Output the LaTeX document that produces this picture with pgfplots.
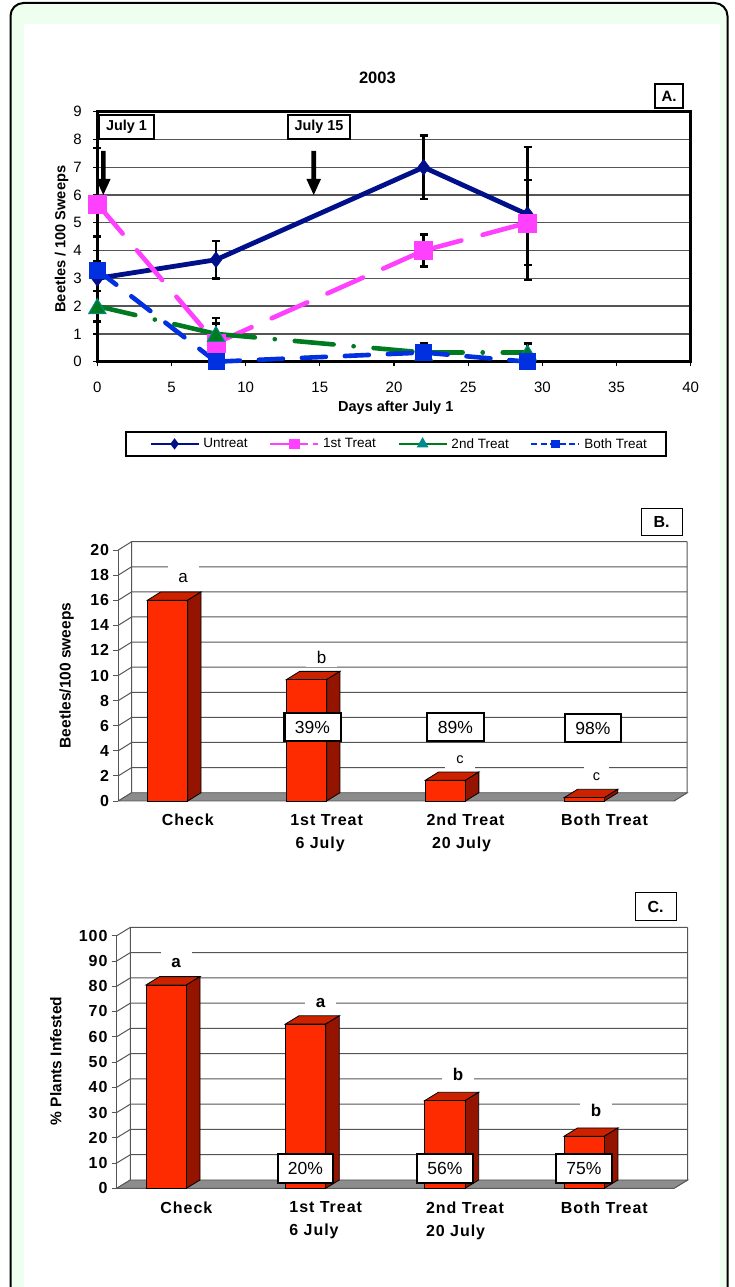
\documentclass[border=0pt]{standalone}
\usepackage{fontspec}
\setmainfont{Liberation Sans}
\newfontfamily\lab{Liberation Sans}[LetterSpace=6]
\usepackage{pgfplots}
\usepackage{pgfplotstable}
\pgfplotsset{compat=1.18}

\definecolor{pale}{HTML}{EEFFEF}
\definecolor{cnavy}{HTML}{000F8A}
\definecolor{cpink}{HTML}{FF40FF}
\definecolor{cgreen}{HTML}{007A1E}
\definecolor{cteal}{HTML}{008C8C}
\definecolor{cblue}{HTML}{0030DF}
\definecolor{barfront}{HTML}{FF2B00}
\definecolor{barside}{HTML}{941400}
\definecolor{bartop}{HTML}{CC2200}
\definecolor{floorc}{HTML}{8C8C8C}
\definecolor{gridc}{HTML}{555555}

% panel A: day, mean, error up, error down
\pgfplotstableread{
x y ep em
0 3 1.5 1.55
8 3.67 0.68 0.67
22 7 1.15 1.15
29 5.3 2.42 2.37
}\untreat
\pgfplotstableread{
x y ep em
0 5.68 2.02 2.1
8 0.67 0.9 0.67
22 4 0.58 0.58
29 5 1.53 1.53
}\firsttreat
\pgfplotstableread{
x y ep em
0 2 0.55 0.55
8 1 0.38 0.38
22 0.33 0.35 0.33
29 0.33 0.33 0.33
}\secondtreat
\pgfplotstableread{
x y ep em
0 3.3 0.3 0.3
8 0 0.3 0
22 0.33 0.3 0.33
29 0 0.3 0
}\bothtreat

\newcommand{\fs}[1]{\fontsize{#1}{#1}\selectfont}
% white label box given by its pixel corners
\newcommand{\pxbox}[6]{\node[draw=black,fill=white,line width=#5,inner sep=0pt,
  minimum width={(#3-#1)*1pt},minimum height={(#4-#2)*1pt}] at ({(#1+#3)/2*1pt},{(1287-(#2+#4)/2)*1pt}) {#6};}
% letter over a bar, white behind it cuts the grid line
\newcommand{\pxlet}[5]{\node[fill=white,inner sep=0pt,minimum width=#3,minimum height=#4] at ({#1*1pt},{(1287-#2)*1pt}) {#5};}
\newcommand{\pxarrow}[1]{\fill (#1-2.3,1287-151) -- (#1+2.3,1287-151) -- (#1+2.3,1287-179) -- (#1+7.3,1287-179)
  -- (#1,1287-195) -- (#1-7.3,1287-179) -- (#1-2.3,1287-179) -- cycle;}

\pgfplotsset{
  barpanel/.style={
    scale only axis,
    axis lines=left,
    x axis line style={-,gridc,line width=1pt},
    y axis line style={-,gridc,line width=1pt},
    xmin=0,xmax=4,
    clip=false,
    xtick={0.5,1.5,2.5,3.5},
    minor xtick={0,1,2,3,4},
    tick align=outside,
    major tick length=5pt,
    minor tick length=5pt,
    tick style={gridc,line width=0.9pt},
    xtick style={draw=none},
    minor x tick style={gridc,line width=0.9pt},
    /pgf/number format/assume math mode=true,
    yticklabel style={font=\fs{16}\lab\bfseries,inner sep=1pt,xshift=-3pt},
    xticklabel style={font=\fontsize{16}{23}\selectfont\lab\bfseries,inner sep=0pt,yshift=-8pt},
  },
  front/.style={ybar,bar width=40.3pt,bar shift=-20.15pt,fill=barfront,draw=black,line width=0.8pt},
  side/.style={fill=barside,draw=black,line width=0.8pt},
  topf/.style={fill=bartop,draw=black,line width=0.8pt},
  lnavy/.style={cnavy,line width=4.8pt,line cap=round},
  lpink/.style={cpink,line width=4.6pt,line cap=round,dash pattern=on 39pt off 22pt},
  lgreen/.style={cgreen,line width=4.6pt,line cap=round,dash pattern=on 39pt off 20pt on 0.1pt off 20pt},
  lblue/.style={cblue,line width=4.6pt,line cap=round,dash pattern=on 24pt off 19pt},
  errs/.style={error bars/.cd,y dir=both,y explicit,
    error bar style={black,line width=2.4pt},
    error mark options={black,line width=2.4pt,mark size=4pt,rotate=90}},
}

\begin{document}
\begin{tikzpicture}[x=1pt,y=1pt]
\path[use as bounding box,clip] (0,0) rectangle (735,1287);
\fill[white] (0,0) rectangle (735,1287);
\draw[black,line width=2pt,fill=pale,rounded corners=13pt] (10.5,-40) rectangle (727.5,1284);
\fill[white] (24,-40) rectangle (720,1263);

% panel A
\begin{axis}[
  at={(97.3pt,925.3pt)},anchor=south west,
  scale only axis,width=593.4pt,height=250pt,
  xmin=0,xmax=40,ymin=0,ymax=9,
  xtick={0,5,...,40},ytick={0,1,...,9},
  clip=false,
  axis line style={line width=3pt},
  ymajorgrids,
  grid style={gridc,line width=1.3pt},
  tick align=outside,tick pos=left,
  major tick length=4pt,
  tick style={black,line width=1.2pt},
  /pgf/number format/assume math mode=true,
  ticklabel style={font=\fs{15}},
  xticklabel style={yshift=-13pt},
  yticklabel style={xshift=-8pt},
  xlabel={Days after July 1},
  ylabel={Beetles / 100 Sweeps},
  x label style={at={(axis description cs:0.503,-0.184)},anchor=center,font=\fs{14.5}\bfseries},
  y label style={at={(axis description cs:-0.06,0.49)},anchor=center,font=\fs{14.6}\bfseries},
  title={2003},
  title style={at={(axis description cs:0.472,1.139)},anchor=center,yshift=-7pt,font=\fs{16.5}\bfseries},
  legend style={at={(axis description cs:0.503,-0.329)},anchor=center,draw=black,line width=1.6pt,
    font=\fs{13.5},legend columns=4,inner xsep=17pt,inner ysep=4.5pt,
    /tikz/every odd column/.append style={column sep=2pt},
    /tikz/every even column/.append style={column sep=19.7pt}},
  legend cell align=left,
  legend image code/.code={\draw[mark repeat=2,mark phase=2,#1] plot coordinates {(0pt,0pt)(24pt,0pt)(48pt,0pt)};},
]
\addlegendimage{legend image code/.code={\path (-7pt,0pt);
    \draw[mark repeat=2,mark phase=2,cnavy,line width=1.8pt,mark=diamond*,mark size=4.2pt,mark options={solid,fill=cnavy,draw=cnavy}]
      plot coordinates {(0pt,0pt)(24pt,0pt)(48pt,0pt)};}}
\addlegendentry{Untreat}
\addlegendimage{cpink,line width=1.8pt,dash pattern=on 38pt off 5pt on 5pt,mark=square*,mark size=4.5pt,mark options={solid,fill=cpink,draw=cpink}}
\addlegendentry{1st Treat}
\addlegendimage{cgreen,line width=1.8pt,mark=triangle*,mark size=5pt,mark options={solid,fill=cteal,draw=cteal}}
\addlegendentry{2nd Treat}
\addlegendimage{cblue,line width=1.8pt,dash pattern=on 6pt off 3.4pt,mark=square*,mark size=3.5pt,mark options={solid,fill=cblue,draw=cblue}}
\addlegendentry{Both Treat}

% lines, one piece per interval so each dash pattern restarts at a point
\addplot[lnavy,forget plot] coordinates {(0,3)(8,3.67)(22,7)(29,5.3)};
\addplot[forget plot,only marks,mark=diamond*,mark size=8pt,mark options={fill=cnavy,draw=cnavy},errs]
  table[x=x,y=y,y error plus=ep,y error minus=em] {\untreat};

\addplot[lpink,forget plot] coordinates {(0,5.68)(8,0.67)};
\addplot[lpink,forget plot] coordinates {(8,0.67)(22,4)};
\addplot[lpink,forget plot] coordinates {(22,4)(29,5)};
\addplot[forget plot,only marks,mark=square*,mark size=9pt,mark options={fill=cpink,draw=cpink},errs]
  table[x=x,y=y,y error plus=ep,y error minus=em] {\firsttreat};

\addplot[lgreen,forget plot] coordinates {(0,2)(8,1)};
\addplot[lgreen,forget plot] coordinates {(8,1)(22,0.33)};
\addplot[lgreen,forget plot] coordinates {(22,0.33)(29,0.33)};
\addplot[forget plot,only marks,mark=triangle*,mark size=10pt,mark options={fill=cgreen,draw=cteal,line width=1pt,yshift=-2.5pt},errs]
  table[x=x,y=y,y error plus=ep,y error minus=em] {\secondtreat};

\addplot[lblue,forget plot] coordinates {(0,3.3)(8,0)};
\addplot[lblue,forget plot] coordinates {(8,0)(22,0.33)};
\addplot[lblue,forget plot] coordinates {(22,0.33)(29,0)};
\addplot[forget plot,only marks,mark=square*,mark size=8pt,mark options={fill=cblue,draw=cblue},errs]
  table[x=x,y=y,y error plus=ep,y error minus=em] {\bothtreat};
\end{axis}
\pxbox{655}{84}{683}{108}{1.4pt}{\fs{15}\bfseries A.}
\pxbox{99}{115}{154}{139}{1.2pt}{\fs{14.4}\bfseries July 1}
\pxbox{288}{115}{350}{139}{1.2pt}{\fs{14.4}\bfseries July 15}
\pxarrow{103.3}
\pxarrow{313.7}

% panel B
\begin{axis}[
  barpanel,
  at={(118.3pt,486pt)},anchor=south west,
  width=555.6pt,height=251pt,
  ymin=0,ymax=20,ytick={0,2,...,20},
  xticklabels={{Check},{1st Treat\\6 July\hspace*{13pt}},{2nd Treat\\20 July\hspace*{8pt}},{Both Treat}},
  xticklabel style={align=center},
  ylabel={Beetles/100 sweeps},
  y label style={at={(axis description cs:-0.093,0.5)},anchor=center,font=\fs{15.5}\bfseries},
]
\pgfplotsinvokeforeach{2,4,...,20}{
  \draw[gridc,line width=1pt] (axis cs:0,#1) -- ++(13.3pt,8.3pt) -- ++(555.6pt,0pt);}
\draw[gridc,line width=1pt] (axis cs:0,0) -- ++(13.3pt,8.3pt) -- ++(0pt,251pt);
\draw[gridc,line width=1pt] (axis cs:4,20) ++(13.3pt,8.3pt) -- ++(0pt,-251pt) -- (axis cs:4,0);
\addplot[fill=floorc,draw=gridc,line width=0.8pt] coordinates {(0,0)(4,0)(4.096,0.66)(0.096,0.66)} -- cycle;

\addplot[topf] coordinates {(0.21,16)(0.5,16)(0.596,16.66)(0.306,16.66)} -- cycle;
\addplot[side] coordinates {(0.5,0)(0.596,0.66)(0.596,16.66)(0.5,16)} -- cycle;
\addplot[topf] coordinates {(1.21,9.67)(1.5,9.67)(1.596,10.33)(1.306,10.33)} -- cycle;
\addplot[side] coordinates {(1.5,0)(1.596,0.66)(1.596,10.33)(1.5,9.67)} -- cycle;
\addplot[topf] coordinates {(2.21,1.65)(2.5,1.65)(2.596,2.31)(2.306,2.31)} -- cycle;
\addplot[side] coordinates {(2.5,0)(2.596,0.66)(2.596,2.31)(2.5,1.65)} -- cycle;
\addplot[topf] coordinates {(3.21,0.27)(3.5,0.27)(3.596,0.93)(3.306,0.93)} -- cycle;
\addplot[side] coordinates {(3.5,0)(3.596,0.66)(3.596,0.93)(3.5,0.27)} -- cycle;
\addplot[front] coordinates {(0.5,16)(1.5,9.67)(2.5,1.65)(3.5,0.27)};
\end{axis}
\pxbox{641}{509}{682}{536}{1pt}{\fs{16}\bfseries B.}
\pxbox{284.3}{713}{340.7}{741}{2.4pt}{\fs{17.5}39\%}
\pxbox{427}{713}{484}{741}{2.4pt}{\fs{17.5}89\%}
\pxbox{565}{714}{621}{742}{2.4pt}{\fs{17.5}98\%}
\pxlet{183}{578}{31pt}{25pt}{\fs{17}a}
\pxlet{321.5}{657.5}{31pt}{20pt}{\fs{17}b}
\pxlet{460}{760}{30pt}{18pt}{\fs{14.5}c}
\pxlet{596.5}{777}{25pt}{22pt}{\fs{14.5}c}

% panel C
\begin{axis}[
  barpanel,
  at={(116.7pt,98.7pt)},anchor=south west,
  width=557.3pt,height=252.6pt,
  ymin=0,ymax=100,ytick={0,10,...,100},
  xticklabels={{Check},{1st Treat\\6 July},{2nd Treat\\20 July},{Both Treat}},
  xticklabel style={align=left},
  ylabel={\% Plants Infested},
  y label style={at={(axis description cs:-0.109,0.504)},anchor=center,font=\fs{15.5}\bfseries},
]
\pgfplotsinvokeforeach{10,20,...,100}{
  \draw[gridc,line width=1pt] (axis cs:0,#1) -- ++(13.6pt,8.3pt) -- ++(557.3pt,0pt);}
\draw[gridc,line width=1pt] (axis cs:0,0) -- ++(13.6pt,8.3pt) -- ++(0pt,252.6pt);
\draw[gridc,line width=1pt] (axis cs:4,100) ++(13.6pt,8.3pt) -- ++(0pt,-252.6pt) -- (axis cs:4,0);
\addplot[fill=floorc,draw=gridc,line width=0.8pt] coordinates {(0,0)(4,0)(4.098,3.29)(0.098,3.29)} -- cycle;

\addplot[topf] coordinates {(0.21,80.5)(0.5,80.5)(0.598,83.79)(0.308,83.79)} -- cycle;
\addplot[side] coordinates {(0.5,0)(0.598,3.29)(0.598,83.79)(0.5,80.5)} -- cycle;
\addplot[topf] coordinates {(1.21,65)(1.5,65)(1.598,68.29)(1.308,68.29)} -- cycle;
\addplot[side] coordinates {(1.5,0)(1.598,3.29)(1.598,68.29)(1.5,65)} -- cycle;
\addplot[topf] coordinates {(2.21,34.7)(2.5,34.7)(2.598,37.99)(2.308,37.99)} -- cycle;
\addplot[side] coordinates {(2.5,0)(2.598,3.29)(2.598,37.99)(2.5,34.7)} -- cycle;
\addplot[topf] coordinates {(3.21,20.6)(3.5,20.6)(3.598,23.89)(3.308,23.89)} -- cycle;
\addplot[side] coordinates {(3.5,0)(3.598,3.29)(3.598,23.89)(3.5,20.6)} -- cycle;
\addplot[front] coordinates {(0.5,80.5)(1.5,65)(2.5,34.7)(3.5,20.6)};
\end{axis}
\pxbox{635}{893}{676}{921}{1pt}{\fs{16}\bfseries C.}
\pxbox{277.7}{1154}{333}{1183}{2.4pt}{\fs{17.5}20\%}
\pxbox{416.7}{1154}{473}{1183}{2.4pt}{\fs{17.5}56\%}
\pxbox{556}{1154}{612}{1183}{2.4pt}{\fs{17.5}75\%}
\pxlet{176}{963}{31pt}{26pt}{\fs{17}\bfseries a}
\pxlet{320.5}{1003}{31pt}{20pt}{\fs{17}\bfseries a}
\pxlet{458}{1074}{32pt}{21pt}{\fs{17}\bfseries b}
\pxlet{596}{1110}{32pt}{22pt}{\fs{17}\bfseries b}
\end{tikzpicture}
\end{document}
